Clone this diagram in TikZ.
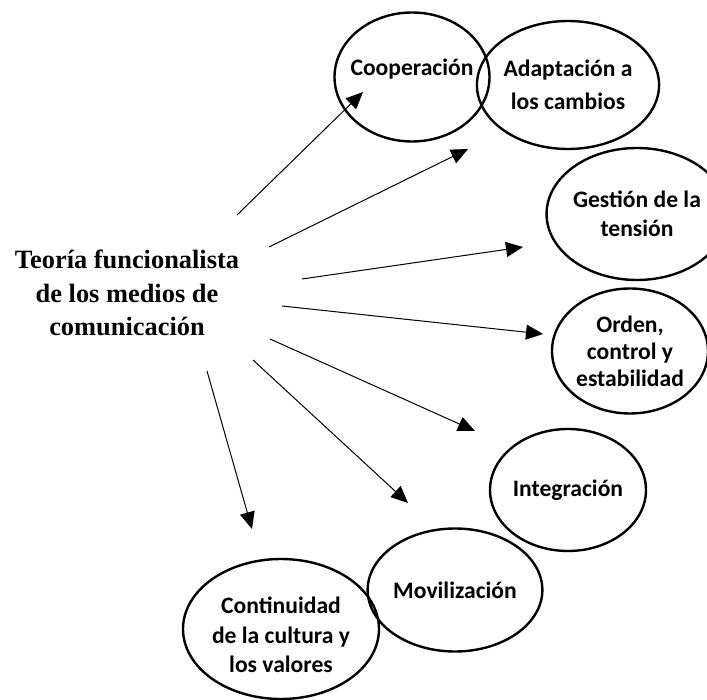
\documentclass[tikz,border=0pt]{standalone}
\usepackage{fontspec}
\setmainfont{Carlito}
\newfontfamily\serifbold{Liberation Serif}
\usetikzlibrary{shapes.geometric,arrows.meta}

\begin{document}
\begin{tikzpicture}[x=1pt,y=-1pt,
  rotulo/.style={align=center,font=\fontsize{23.6}{29.5}\selectfont\bfseries},
  bubble/.style={ellipse,draw,line width=2.4pt,inner sep=0pt,rotulo},
  flecha/.style={-{Triangle[length=17pt,width=15pt]},line width=1pt}]
\useasboundingbox (0,0) rectangle (707,700);
% titulo
\node[align=center,font=\serifbold\fontsize{26.4}{33.5}\selectfont\bfseries] (teoria) at (127,293) {Teoría funcionalista\\de los medios de\\comunicación};
% funciones
\node[bubble,minimum width=155pt,minimum height=129pt,label={[rotulo,yshift=8pt]center:Cooperación}] (coop) at (412,77) {};
\node[bubble,minimum width=158pt,minimum height=128pt,font=\fontsize{23.6}{33}\selectfont\bfseries] (adapt) at (568,85) {Adaptación a\\los cambios};
\node[bubble,minimum width=154pt,minimum height=132pt] (gest) at (637,214) {Gestión de la\\tensión};
\node[bubble,minimum width=156pt,minimum height=125pt,font=\fontsize{23.6}{27}\selectfont\bfseries] (orden) at (630,351) {Orden,\\control y\\estabilidad};
\node[bubble,minimum width=156pt,minimum height=122pt] (integ) at (568,490) {Integración};
\node[bubble,minimum width=154pt,minimum height=123pt] (movil) at (455,590) {Movilización};
\node[bubble,minimum width=196pt,minimum height=140pt,label={[rotulo,yshift=-6pt]center:Continuidad\\de la cultura y\\los valores}] (cont) at (281,629) {};
% flechas
\coordinate (s1) at (237,215); \coordinate (t1) at (363,92);
\coordinate (s2) at (269,247); \coordinate (t2) at (468,149);
\coordinate (s3) at (302,279); \coordinate (t3) at (523,247);
\coordinate (s4) at (282,306); \coordinate (t4) at (543,334);
\coordinate (s5) at (270,339); \coordinate (t5) at (475,431);
\coordinate (s6) at (253,360); \coordinate (t6) at (408,503);
\coordinate (s7) at (207,371); \coordinate (t7) at (252,529);
\foreach \i in {1,...,7}
  \draw[flecha] (s\i) -- (t\i);
\end{tikzpicture}
\end{document}
